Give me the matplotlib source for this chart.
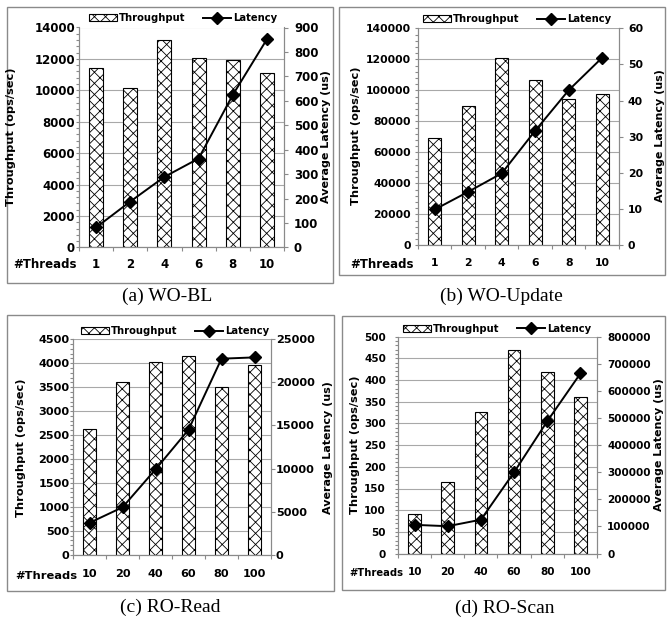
import matplotlib
matplotlib.use('Agg')
import matplotlib.pyplot as plt
from matplotlib.patches import Rectangle
from matplotlib.ticker import MultipleLocator, FixedLocator, FuncFormatter

plt.rcParams['hatch.linewidth'] = 0.6
plt.rcParams['font.family'] = ['DejaVu Sans']

W, H = 667, 618

# ---------------- data ----------------
threads_wo = ['1', '2', '4', '6', '8', '10']
threads_ro = ['10', '20', '40', '60', '80', '100']

wo_bl_tput = [11450, 10120, 13230, 12060, 11900, 11110]
wo_bl_lat = [82, 188, 289, 364, 624, 852]

wo_up_tput = [69200, 89800, 121100, 106600, 94700, 97900]
wo_up_lat = [9.9, 14.8, 19.9, 31.7, 42.9, 51.9]

ro_read_tput = [2625, 3600, 4025, 4145, 3505, 3965]
ro_read_lat = [3700, 5500, 9900, 14500, 22750, 22900]

ro_scan_tput = [92, 164, 327, 469, 419, 360]
ro_scan_lat = [106000, 101000, 125000, 300000, 488000, 664000]

captions = ['(a) WO-BL', '(b) WO-Update', '(c) RO-Read', '(d) RO-Scan']

fig = plt.figure(figsize=(W / 100, H / 100), dpi=100)

def fx(x):
    return x / W

def fy(y):
    return 1 - y / H

GRAY = '#8a8a8a'
GRID = '#a8a8a8'

panels = [
    dict(cats=threads_wo, tput=wo_bl_tput, lat=wo_bl_lat, cap=captions[0],
         ax=(79, 27.5, 284, 247.5), ly=(14000, 2000), ry=(900, 100),
         frame=(7, 7, 333, 283), capc=(167, 296), legc=(183, 18),
         thr=(13, 265), yl=(11.5, 137), yr=(326, 137), s=1.0, ts=1.0,
         lgap=4, rgap=10, xoff=17.5, bw=0.41),
    dict(cats=threads_wo, tput=wo_up_tput, lat=wo_up_lat, cap=captions[1],
         ax=(418, 28.3, 619, 245.3), ly=(140000, 20000), ry=(60, 10),
         frame=(339, 7, 665, 275), capc=(501, 296), legc=(517, 19),
         thr=(350, 265), yl=(356, 136), yr=(660, 136), s=0.92, ts=1.0,
         lgap=7, rgap=9, xoff=19.5, bw=0.39),
    dict(cats=threads_ro, tput=ro_read_tput, lat=ro_read_lat, cap=captions[2],
         ax=(73, 339.3, 271, 554.7), ly=(4500, 500), ry=(25000, 5000),
         frame=(7, 315, 334, 591), capc=(170, 607), legc=(175, 331),
         thr=(15, 576), yl=(21, 448), yr=(328, 448), s=0.95, ts=0.97,
         lgap=3, rgap=5, xoff=21, bw=0.41),
    dict(cats=threads_ro, tput=ro_scan_tput, lat=ro_scan_lat, cap=captions[3],
         ax=(398, 336.6, 597, 553.6), ly=(500, 50), ry=(800000, 100000),
         frame=(342, 316, 665, 590), capc=(505, 608), legc=(497, 329),
         thr=(349, 573), yl=(355, 445), yr=(659, 445), s=0.88, ts=0.85,
         lgap=12, rgap=10, xoff=19.5, bw=0.38),
]

PT = 100 / 72.0

for p in panels:
    s = p['s']
    fs = 8.5 * s
    l, t, r, b = p['ax']
    ax = fig.add_axes([fx(l), fy(b), (r - l) / W, (b - t) / H])
    n = len(p['cats'])
    xs = list(range(n))
    bars = ax.bar(xs, p['tput'], width=p['bw'], color='white', edgecolor='black',
                  hatch='xxx', linewidth=0.8, zorder=2, label='Throughput')
    ax.set_xlim(-0.5, n - 0.5)
    ax.set_ylim(0, p['ly'][0])
    ax.yaxis.set_major_locator(MultipleLocator(p['ly'][1]))
    ax.yaxis.set_minor_locator(MultipleLocator(p['ly'][1] / 5))
    ax.yaxis.set_major_formatter(FuncFormatter(lambda v, pos: '%d' % round(v)))
    ax.set_axisbelow(True)
    ax.grid(axis='y', which='major', color=GRID, linewidth=0.8, zorder=0)
    ax.set_xticks(xs)
    ax.set_xticklabels(p['cats'])
    ax.xaxis.set_minor_locator(FixedLocator([i - 0.5 for i in range(n + 1)]))
    xpad = (p['xoff'] - 0.6 * fs * PT) / PT
    ax.tick_params(axis='x', which='major', length=0, pad=xpad, labelsize=fs)
    ax.tick_params(axis='x', which='minor', length=4 / PT, width=0.8, color=GRAY,
                   direction='out')
    ax.tick_params(axis='y', which='both', length=3 / PT, width=0.8, color=GRAY,
                   direction='out', labelsize=fs, pad=max(p['lgap'] - 3, 0.5) / PT)
    for lab in ax.get_xticklabels() + ax.get_yticklabels():
        lab.set_fontweight('bold')
    ax.spines['top'].set_visible(False)
    for side in ['left', 'bottom', 'right']:
        ax.spines[side].set_color(GRAY)
        ax.spines[side].set_linewidth(0.8)

    ax2 = ax.twinx()
    line, = ax2.plot(xs, p['lat'], color='black', linewidth=1.4, marker='D',
                     markersize=6.5, zorder=5, label='Latency')
    ax2.set_ylim(0, p['ry'][0])
    ax2.yaxis.set_major_locator(MultipleLocator(p['ry'][1]))
    ax2.yaxis.set_major_formatter(FuncFormatter(lambda v, pos: '%d' % round(v)))
    ax2.tick_params(axis='y', which='major', length=4 / PT, width=0.8, color=GRAY,
                    direction='out', labelsize=fs, pad=max(p['rgap'] - 4, 0.5) / PT)
    for lab in ax2.get_yticklabels():
        lab.set_fontweight('bold')
    ax2.spines['top'].set_visible(False)
    for side in ['left', 'bottom', 'right']:
        ax2.spines[side].set_color(GRAY)
        ax2.spines[side].set_linewidth(0.8)

    # legend
    ax2.legend([bars, line], ['Throughput', 'Latency'], loc='center',
               bbox_to_anchor=(fx(p['legc'][0]), fy(p['legc'][1])),
               bbox_transform=fig.transFigure, ncol=2, frameon=False,
               handlelength=2.8, handleheight=0.7, handletextpad=0.15,
               columnspacing=1.8, borderpad=0,
               prop={'size': 7.2, 'weight': 'bold'})

    # axis titles
    fig.text(fx(p['yl'][0]), fy(p['yl'][1]), 'Throughput (ops/sec)', rotation=90,
             ha='center', va='center', fontsize=8.2, fontweight='bold')
    fig.text(fx(p['yr'][0]), fy(p['yr'][1]), 'Average Latency (us)', rotation=90,
             ha='center', va='center', fontsize=8.0, fontweight='bold')
    fig.text(fx(p['thr'][0]), fy(p['thr'][1]), '#Threads', ha='left', va='center',
             fontsize=8.5 * p['ts'], fontweight='bold')

    # panel frame and caption
    x0, y0, x1, y1 = p['frame']
    fig.add_artist(Rectangle((fx(x0), fy(y1)), (x1 - x0) / W, (y1 - y0) / H,
                             transform=fig.transFigure, fill=False,
                             edgecolor=GRAY, linewidth=1.0))
    fig.text(fx(p['capc'][0]), fy(p['capc'][1]), p['cap'], ha='center', va='center',
             fontsize=14, family='Liberation Serif')

fig.savefig('out.png', dpi=100)
